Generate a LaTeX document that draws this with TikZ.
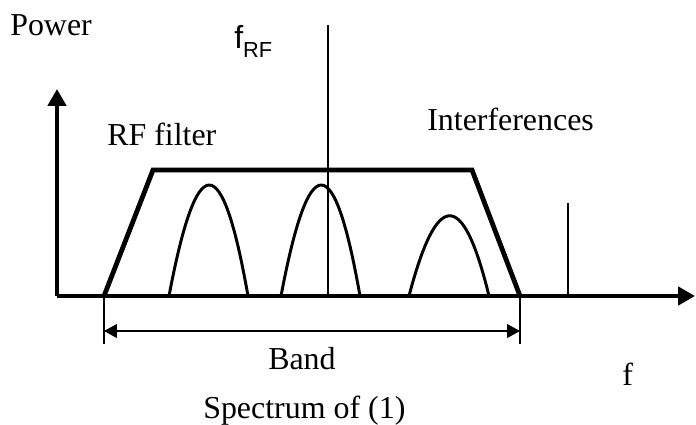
\documentclass[tikz,border=0pt]{standalone}
\usepackage{fontspec}
\setmainfont{Liberation Serif}
\setsansfont{Liberation Sans}
\usetikzlibrary{arrows.meta,positioning,calc}

\begin{document}
\begin{tikzpicture}[
	x=0.025cm,
	y=-0.025cm,
	font=\fontsize{22.7}{26}\selectfont,
	label/.style={anchor=base west,inner sep=0pt,text=black},
	axis/.style={line width=2.9pt,-{Triangle[length=0.42cm,width=0.45cm]}},
	filterline/.style={line width=3.4pt,line join=miter},
	hump/.style={line width=2.1pt},
	thinline/.style={line width=1pt},
	spike/.style={line width=2pt},
	bandarrow/.style={line width=1.3pt,{Triangle[length=0.32cm,width=0.34cm]}-{Triangle[length=0.32cm,width=0.34cm]}}
	]
	\useasboundingbox (0,0) rectangle (696,424);
	
	% axes
	\coordinate (origin) at (57,296);
	\coordinate (ytip) at (57,89);
	\coordinate (xtip) at (695,296);
	\draw[axis] (origin) -- (ytip);
	\draw[axis] (origin) -- (xtip);
	
	% labels
	\node[label] (power) at (10,35) {Power};
	\node[label,font=\fontsize{22.7}{26}\sffamily] (frf) at (234,48) {f\raisebox{-7pt}{\fontsize{15.5}{17}\selectfont RF}};
	\node[label] (rffilter) at (107,145) {RF filter};
	\node[label] (interf) at (427,130) {Interferences};
	\node[label] (band) at (268,369) {Band};
	\node[label] (faxis) at (622,385) {f};
	\node[label] (caption) at (203,418) {Spectrum of (1)};
	
	% carrier line
	\coordinate (rftop) at (328,25);
	\coordinate (rfbase) at (328,296);
	\draw[thinline] (rftop) -- (rfbase);
	
	% RF filter
	\coordinate (fl0) at (104,296);
	\coordinate (fl1) at (153,170);
	\coordinate (fr1) at (472,170);
	\coordinate (fr0) at (520,296);
	\draw[filterline] (fl0) -- (fl1) -- (fr1) -- (fr0);
	
	% channels
	\draw[hump] (169,296) .. controls (197,148) and (222,148) .. (248,296);
	\draw[hump] (281,296) .. controls (309,148) and (334,148) .. (360,296);
	\draw[hump] (409,296) .. controls (437,189) and (463,189) .. (489,296);
	
	% interference
	\coordinate (spiketop) at (568,203);
	\coordinate (spikebase) at (568,296);
	\draw[spike] (spikebase) -- (spiketop);
	
	% band
	\coordinate (bl) at (104,344);
	\coordinate (br) at (520,344);
	\draw[thinline] (fl0) -- (bl);
	\draw[thinline] (fr0) -- (br);
	\coordinate (bal) at (104,331);
	\coordinate (bar) at (520,331);
	\draw[bandarrow] (bal) -- (bar);
\end{tikzpicture}
\end{document}
